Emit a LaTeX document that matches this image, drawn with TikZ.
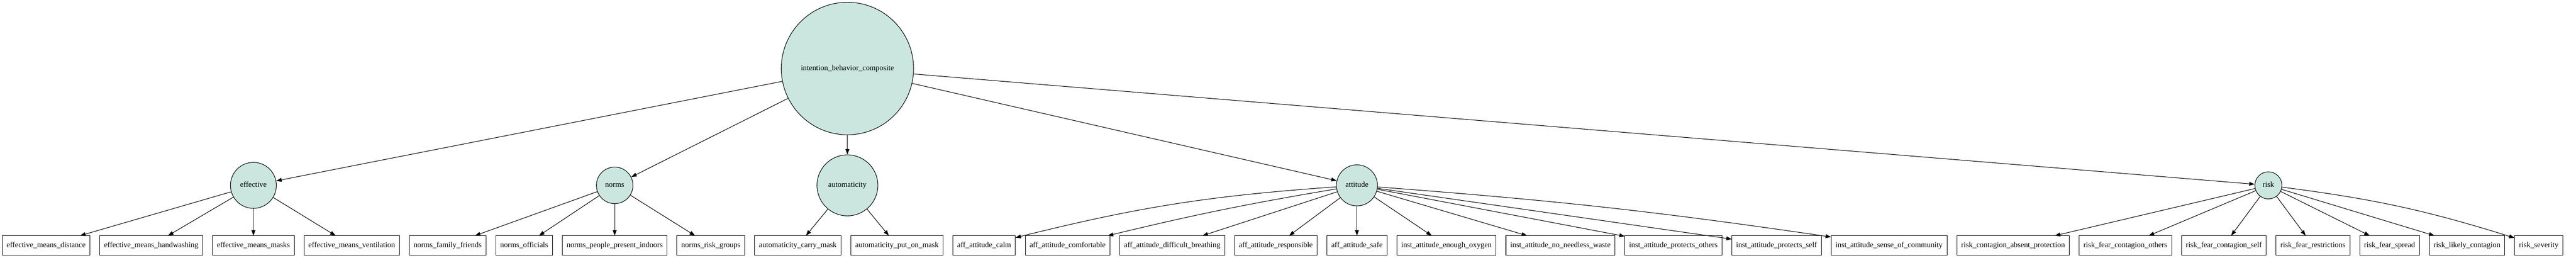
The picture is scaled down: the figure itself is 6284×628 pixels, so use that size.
\documentclass[tikz,border=0pt]{standalone}
\usepackage{fontspec}
\setmainfont{Liberation Serif}[Ligatures=NoCommon]
\usetikzlibrary{positioning,arrows.meta,calc}
\definecolor{latentfill}{RGB}{203,230,223}

\begin{document}
\begin{tikzpicture}[x=0.75pt,y=-0.75pt,
        font=\fontsize{14}{17}\selectfont,
        latent/.style={circle,draw,fill=latentfill,line width=1pt,inner sep=0pt,text height=9.5pt,text depth=3pt},
        indicator/.style={rectangle,draw,line width=1pt,minimum height=36pt,inner xsep=8pt,inner ysep=0pt,outer sep=0pt,text height=9.5pt,text depth=3pt},
        link/.style={-{Triangle[length=10pt,width=7pt]},line width=1pt},
        node distance=18pt]
    \useasboundingbox (0,0) rectangle (6284,628);

    \node[indicator,anchor=west] (effdistance) at (5.6,598) {effective\_means\_distance};
    \node[indicator,right=of effdistance] (effhandwashing) {effective\_means\_handwashing};
    \node[indicator,right=of effhandwashing] (effmasks) {effective\_means\_masks};
    \node[indicator,right=of effmasks] (effventilation) {effective\_means\_ventilation};
    \node[indicator,right=of effventilation] (normsfamily) {norms\_family\_friends};
    \node[indicator,right=of normsfamily] (normsofficials) {norms\_officials};
    \node[indicator,right=of normsofficials] (normspeople) {norms\_people\_present\_indoors};
    \node[indicator,right=of normspeople] (normsrisk) {norms\_risk\_groups};
    \node[indicator,right=of normsrisk] (autocarry) {automaticity\_carry\_mask};
    \node[indicator,right=of autocarry] (autoputon) {automaticity\_put\_on\_mask};
    \node[indicator,right=of autoputon] (affcalm) {aff\_attitude\_calm};
    \node[indicator,right=of affcalm] (affcomfortable) {aff\_attitude\_comfortable};
    \node[indicator,right=of affcomfortable] (affbreathing) {aff\_attitude\_difficult\_breathing};
    \node[indicator,right=of affbreathing] (affresponsible) {aff\_attitude\_responsible};
    \node[indicator,right=of affresponsible] (affsafe) {aff\_attitude\_safe};
    \node[indicator,right=of affsafe] (instoxygen) {inst\_attitude\_enough\_oxygen};
    \node[indicator,right=of instoxygen] (instwaste) {inst\_attitude\_no\_needless\_waste};
    \node[indicator,right=of instwaste] (instothers) {inst\_attitude\_protects\_others};
    \node[indicator,right=of instothers] (instself) {inst\_attitude\_protects\_self};
    \node[indicator,right=of instself] (instcommunity) {inst\_attitude\_sense\_of\_community};
    \node[indicator,right=of instcommunity] (riskabsent) {risk\_contagion\_absent\_protection};
    \node[indicator,right=of riskabsent] (riskothers) {risk\_fear\_contagion\_others};
    \node[indicator,right=of riskothers] (riskself) {risk\_fear\_contagion\_self};
    \node[indicator,right=of riskself] (riskrestrictions) {risk\_fear\_restrictions};
    \node[indicator,right=of riskrestrictions] (riskspread) {risk\_fear\_spread};
    \node[indicator,right=of riskspread] (risklikely) {risk\_likely\_contagion};
    \node[indicator,right=of risklikely] (riskseverity) {risk\_severity};

    \coordinate (automid) at ($(autocarry)!0.5!(autoputon)$);
    \coordinate (riskmid) at ($(riskself)!0.5!(riskrestrictions)$);

    \node[latent,minimum size=84pt] (effective) at ([yshift=109.9pt]effmasks.center) {effective};
    \node[latent,minimum size=66.8pt] (norms) at ([yshift=109.9pt]normspeople.center) {norms};
    \node[latent,minimum size=111.4pt] (automaticity) at ([yshift=109.9pt]automid) {automaticity};
    \node[latent,minimum size=75pt] (attitude) at ([yshift=109.9pt]affsafe.center) {attitude};
    \node[latent,minimum size=49.5pt] (risk) at ([yshift=109.9pt]riskmid) {risk};
    \node[latent,minimum size=242pt] (composite) at ([yshift=213.4pt]automaticity.center) {intention\_behavior\_composite};

    \draw[link] (composite) edge (effective) edge (norms) edge (automaticity)
        edge (attitude) edge (risk);
    \draw[link] (effective) edge (effdistance) edge (effhandwashing)
        edge (effmasks) edge (effventilation);
    \draw[link] (norms) edge (normsfamily) edge (normsofficials)
        edge (normspeople) edge (normsrisk);
    \draw[link] (automaticity) edge (autocarry) edge (autoputon);
    \draw[link] (attitude) edge[bend right=5] (affcalm) edge[bend right=2] (affcomfortable)
        edge (affbreathing) edge (affresponsible) edge (affsafe) edge (instoxygen)
        edge (instwaste) edge (instothers) edge (instself) edge[bend left=2] (instcommunity);
    \draw[link] (risk) edge (riskabsent) edge (riskothers) edge (riskself)
        edge (riskrestrictions) edge (riskspread) edge (risklikely)
        edge[bend left=5] (riskseverity);
\end{tikzpicture}
\end{document}
